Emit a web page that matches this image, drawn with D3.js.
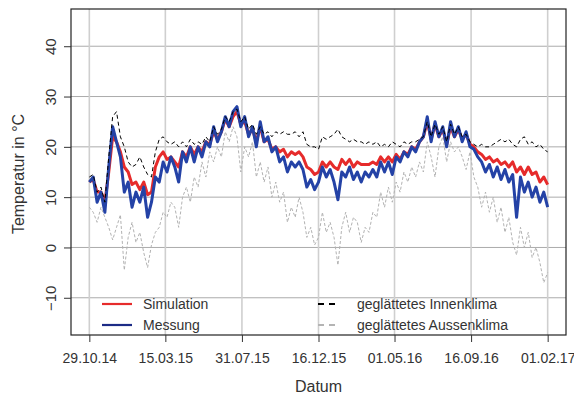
<!DOCTYPE html>
<html>
<head>
<meta charset="utf-8">
<script src="https://cdn.jsdelivr.net/npm/d3@7"></script>
<style>
  html, body { margin: 0; padding: 0; background: #fff; }
  svg { display: block; font-family: "Liberation Sans", Arial, sans-serif; }
</style>
</head>
<body>
<svg id="chart" width="574" height="397"></svg>
<script>
// ---- data (weekly samples from 29.10.2014) ----
const startDate = new Date(2014, 9, 29);
const stepDays = 7;

const messung = [
  13, 14, 9, 11, 7, 16, 24, 21, 18, 11,
  13, 8, 11, 9, 12, 6, 9, 14, 13, 17,
  15, 18, 16, 13, 19, 17, 20, 17, 20, 18,
  21, 20, 24, 21, 23, 26, 24, 27, 28, 24,
  26, 22, 24, 20, 25, 21, 22, 19, 20, 17,
  18, 15, 17, 16, 17, 15.5, 12, 13.5, 11.5, 13,
  16, 14, 15.5, 13, 9.5, 15, 14, 16, 13.5, 15,
  13, 15, 14, 15.5, 14, 17, 15, 17, 14.5, 18,
  17, 19, 18, 20, 19, 21, 22, 26, 21, 25,
  22, 24, 20, 25, 22, 24, 21, 23, 20, 19.5,
  18, 17, 15, 16.5, 14, 16, 13.5, 15.5, 13, 14.5,
  6, 14, 11, 13, 10, 12, 9, 11, 8
];

const simulation = [
  13, 13.5, 11, 11, 9, 15, 22, 21, 19, 16,
  15, 12.5, 13, 11.5, 13, 10.5, 11, 16, 18, 19,
  17.5, 18, 17, 16, 19, 18, 20, 18.5, 20, 19,
  21, 20.5, 23, 21.5, 23, 25.5, 24, 26, 27, 24.5,
  25, 22.5, 23.5, 21, 24, 21, 21.5, 19.5, 20, 19,
  19.5, 18, 19, 18.5, 19, 18, 16, 15.5, 14.5, 15,
  17, 16, 17, 16, 15.5, 17.5, 16.5, 17.5, 16, 17,
  16.5, 16.5, 16.5, 17, 16.5, 18, 17, 18, 17, 18.5,
  17.5, 19, 18.5, 20, 19.5, 21, 22, 25, 21.5, 24.5,
  22, 23.5, 20.5, 24, 22, 23.5, 21.5, 22.5, 20.5, 20,
  19, 18.5, 17.5, 18, 17, 17.5, 16.5, 17, 16, 17,
  15, 16, 14.5, 16, 14.5, 15, 13, 14, 12.5
];

const innenklima = [
  14, 14.5, 11, 12, 9, 18, 26, 27, 22, 20,
  17, 16, 16.5, 18, 16, 14.5, 14, 19, 21.5, 22,
  21, 20.5, 21, 20, 21, 20, 21.5, 20.5, 21, 20.5,
  22, 21, 24, 22.5, 23.5, 26, 25, 27, 27.5, 25,
  26, 23.5, 24.5, 22.5, 24, 22.5, 23, 22, 23, 22.5,
  23, 22.5, 22.5, 23, 22, 23, 20.5, 20, 20, 19.5,
  22, 21.5, 22, 22.5, 23.5, 22, 21.5, 21, 21.5, 21,
  21, 20.5, 21, 20.5, 21, 20, 20.5, 20, 21, 20.5,
  20, 21, 20.5, 21, 21, 21.5, 22, 25, 22, 24.5,
  22.5, 24, 21, 24.5, 22.5, 24, 22, 22.5, 21, 20.5,
  20, 20.5, 20, 20, 20.5, 21, 21.5, 21, 21.5, 20.5,
  20, 21.5, 22, 20.5, 21, 20, 20.5, 19.5, 19
];

const aussenklima = [
  8, 7, 5, 8, 6, 4, 1.5, 4, 6.5, -4.5,
  2, 5, 1, 3, -1, -4, 0.5, 3, 4, 7,
  6, 9, 8, 4, 10, 12, 9, 14, 12, 17,
  14, 19, 17, 20, 18, 23, 21, 24, 22, 15,
  20, 18, 21, 14, 17, 13, 16, 10, 13, 9,
  11, 5, 8, 6, 10, 7, 2, 4, 0.5, 2,
  7, 3, 5, 2, -3.5, 4, 7, 3, 6, 5,
  1, 4, 3, 7, 6, 11, 8, 12, 9, 13,
  11, 15, 13, 16, 14, 17, 15, 21, 18, 14,
  20, 22, 17, 21, 19, 20, 18, 15.5, 19, 14,
  12, 8, 11, 7, 10, 5, 8, 3, 6, 1,
  -1.5, 4, 0, 3, -2, 0, -3, -7, -5
];

const xTickDates = ["2014-10-29", "2015-03-15", "2015-07-31", "2015-12-16", "2016-05-01", "2016-09-16", "2017-02-01"];
const xTickLabels = ["29.10.14", "15.03.15", "31.07.15", "16.12.15", "01.05.16", "16.09.16", "01.02.17"];
const yTicks = [-10, 0, 10, 20, 30, 40];
const yLimits = [-15, 45];

const legendItems = [
  { label: "Simulation", color: "#e62b2b", dash: null, col: 0, row: 0 },
  { label: "Messung", color: "#1c2b86", dash: null, col: 0, row: 1 },
  { label: "geglättetes Innenklima", color: "#000", dash: "6,5", col: 1, row: 0 },
  { label: "geglättetes Aussenklima", color: "#b4b4b4", dash: "6,5", col: 1, row: 1 }
];

// ---- chart ----
const svg = d3.select("#chart");
const L = 71, R = 566, T = 9, B = 335;

const dates = messung.map((_, i) => d3.timeDay.offset(startDate, i * stepDays));
const d0 = dates[0], d1 = dates[dates.length - 1];
const pad = (d1 - d0) * 0.04;
const x = d3.scaleTime().domain([new Date(+d0 - pad), new Date(+d1 + pad)]).range([L, R]);
const yPad = (yLimits[1] - yLimits[0]) * 0.04;
const y = d3.scaleLinear().domain([yLimits[0] - yPad, yLimits[1] + yPad]).range([B, T]);

const parse = d3.timeParse("%Y-%m-%d");
const tickDates = xTickDates.map(parse);

svg.append("rect").attr("width", 574).attr("height", 397).attr("fill", "#fff");

// grid
const grid = svg.append("g");
grid.selectAll("line.h").data(yTicks).join("line")
  .attr("x1", L).attr("x2", R)
  .attr("y1", d => y(d)).attr("y2", d => y(d))
  .attr("stroke", "#ababab").attr("stroke-width", 1);
grid.selectAll("line.v").data(tickDates).join("line")
  .attr("x1", d => x(d)).attr("x2", d => x(d))
  .attr("y1", T).attr("y2", B)
  .attr("stroke", "#cfcfcf").attr("stroke-width", 1.6);

const line = vals => d3.line()
  .x((d, i) => x(dates[i]))
  .y(d => y(d))(vals);

const plot = svg.append("g");
plot.append("path").attr("d", line(aussenklima))
  .attr("fill", "none").attr("stroke", "#b2b2b2").attr("stroke-width", 1)
  .attr("stroke-dasharray", "3,2");
plot.append("path").attr("d", line(simulation))
  .attr("fill", "none").attr("stroke", "#e62b2b").attr("stroke-width", 3)
  .attr("stroke-linejoin", "round");
plot.append("path").attr("d", line(messung))
  .attr("fill", "none").attr("stroke", "#2442a6").attr("stroke-width", 3)
  .attr("stroke-linejoin", "round");
plot.append("path").attr("d", line(innenklima))
  .attr("fill", "none").attr("stroke", "#000").attr("stroke-width", 1)
  .attr("stroke-dasharray", "4,3");

// box
svg.append("rect").attr("x", L).attr("y", T).attr("width", R - L).attr("height", B - T)
  .attr("fill", "none").attr("stroke", "#222").attr("stroke-width", 1.2);

// x axis
const xAxis = svg.append("g").attr("transform", `translate(0,${B})`)
  .call(d3.axisBottom(x).tickValues(tickDates).tickFormat((d, i) => xTickLabels[i]).tickSizeOuter(0).tickSize(7));
xAxis.select(".domain").remove();
xAxis.selectAll("line").attr("stroke", "#333");
xAxis.selectAll("text").attr("y", 28).attr("dy", 0)
  .attr("font-size", 14).attr("fill", "#333")
  .attr("font-family", "Liberation Sans, Arial, sans-serif");

// y axis
const yAxis = svg.append("g").attr("transform", `translate(${L},0)`)
  .call(d3.axisLeft(y).tickValues(yTicks).tickSizeOuter(0).tickSize(7));
yAxis.select(".domain").remove();
yAxis.selectAll("line").attr("stroke", "#333");
yAxis.selectAll("text")
  .attr("transform", "rotate(-90)")
  .attr("x", 0).attr("y", -15.5).attr("dy", 0)
  .attr("text-anchor", "middle")
  .attr("font-size", 15).attr("fill", "#333")
  .attr("font-family", "Liberation Sans, Arial, sans-serif");

// axis titles
svg.append("text").attr("x", (L + R) / 2).attr("y", 392)
  .attr("text-anchor", "middle").attr("font-size", 16).attr("fill", "#333")
  .text("Datum");
svg.append("text").attr("transform", `translate(24,${(T + B) / 2 + 2}) rotate(-90)`)
  .attr("text-anchor", "middle").attr("font-size", 16).attr("fill", "#333")
  .text("Temperatur in °C");

// legend
const colX = [{ x1: 102, x2: 132, tx: 143 }, { x1: 318, x2: 338, tx: 357 }];
const rowY = [304, 325];
const lg = svg.append("g");
legendItems.forEach(it => {
  const c = colX[it.col], yy = rowY[it.row];
  lg.append("line").attr("x1", c.x1).attr("x2", c.x2).attr("y1", yy).attr("y2", yy)
    .attr("stroke", it.color).attr("stroke-width", 2.2)
    .attr("stroke-dasharray", it.dash);
  lg.append("text").attr("x", c.tx).attr("y", yy + 5)
    .attr("font-size", 14).attr("fill", "#333").text(it.label);
});
</script>
</body>
</html>
